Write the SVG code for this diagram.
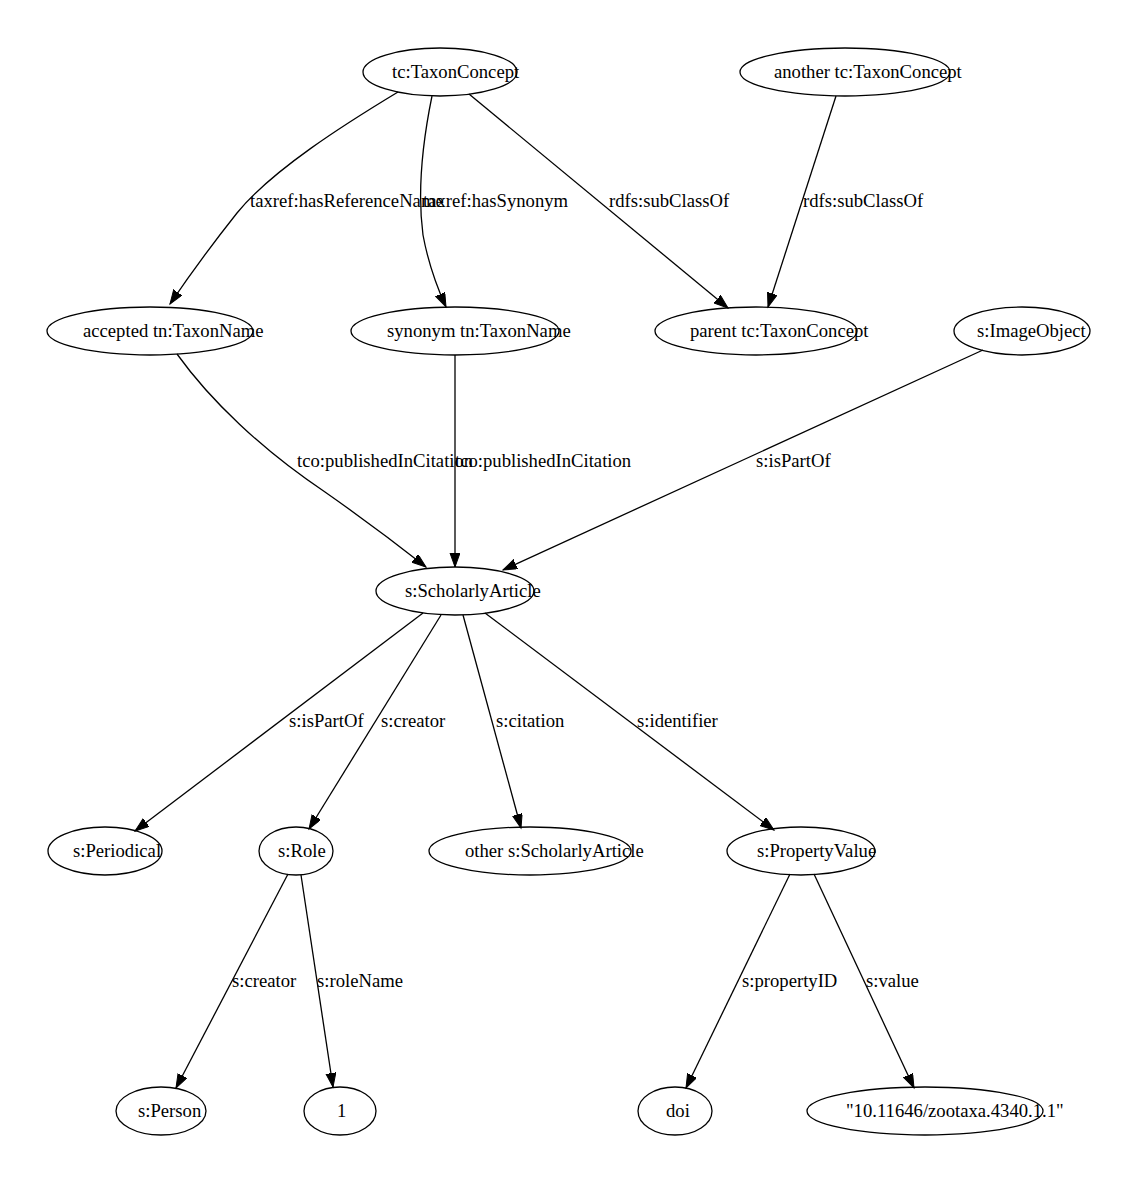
<svg xmlns="http://www.w3.org/2000/svg" width="1139" height="1184" viewBox="0 0 1139 1184">
<style>
.node ellipse{fill:none;stroke:#000;stroke-width:1.3}
text{font-family:"Liberation Serif","Times New Roman",serif;font-size:18.67px;fill:#000}
.edge path{fill:none;stroke:#000;stroke-width:1.3}
</style>
<defs>
<marker id="arr" markerUnits="userSpaceOnUse" markerWidth="16" markerHeight="12" refX="14" refY="5" orient="auto">
<path d="M0,0 L14,5 L0,10 z" fill="#000" stroke="#000" stroke-width="1"/>
</marker>
</defs>
<rect width="1139" height="1184" fill="#fff"/>
<g id="edges" class="edge">
<path marker-end="url(#arr)" d="M398,92 C345,124 272,170 237,213 C214,242 193,270 170,304"/>
<path marker-end="url(#arr)" d="M432,96 C423,140 417,190 423,235 C428,262 436,285 446,307"/>
<path marker-end="url(#arr)" d="M469,94 L728,308"/>
<path marker-end="url(#arr)" d="M836,96 L768,307"/>
<path marker-end="url(#arr)" d="M177,354 C210,400 262,450 325,492 C365,520 398,545 426,567"/>
<path marker-end="url(#arr)" d="M455,355 L455,567"/>
<path marker-end="url(#arr)" d="M983,350 L503,570"/>
<path marker-end="url(#arr)" d="M423,613 L135,831"/>
<path marker-end="url(#arr)" d="M441,615 L309,829"/>
<path marker-end="url(#arr)" d="M463,615 L521,828"/>
<path marker-end="url(#arr)" d="M485,613 L774,830"/>
<path marker-end="url(#arr)" d="M288,874 L176,1088"/>
<path marker-end="url(#arr)" d="M301,875 L333,1087"/>
<path marker-end="url(#arr)" d="M790,874 L686,1088"/>
<path marker-end="url(#arr)" d="M814,874 L914,1088"/>
<text x="250" y="207">taxref:hasReferenceName</text>
<text x="423" y="207">taxref:hasSynonym</text>
<text x="609" y="207">rdfs:subClassOf</text>
<text x="803" y="207">rdfs:subClassOf</text>
<text x="297" y="467">tco:publishedInCitation</text>
<text x="455" y="467">tco:publishedInCitation</text>
<text x="756" y="467">s:isPartOf</text>
<text x="289" y="727">s:isPartOf</text>
<text x="381" y="727">s:creator</text>
<text x="496" y="727">s:citation</text>
<text x="637" y="727">s:identifier</text>
<text x="232" y="987">s:creator</text>
<text x="317" y="987">s:roleName</text>
<text x="742" y="987">s:propertyID</text>
<text x="866" y="987">s:value</text>
</g>
<g id="n1" class="node"><ellipse cx="440" cy="72" rx="77" ry="24"/><text x="392" y="78">tc:TaxonConcept</text></g>
<g id="n2" class="node"><ellipse cx="845" cy="72" rx="105" ry="24"/><text x="774" y="78">another tc:TaxonConcept</text></g>
<g id="n3" class="node"><ellipse cx="150" cy="331" rx="103" ry="24"/><text x="83" y="337">accepted tn:TaxonName</text></g>
<g id="n4" class="node"><ellipse cx="455" cy="331" rx="104" ry="24"/><text x="387" y="337">synonym tn:TaxonName</text></g>
<g id="n5" class="node"><ellipse cx="756" cy="331" rx="101" ry="24"/><text x="690" y="337">parent tc:TaxonConcept</text></g>
<g id="n6" class="node"><ellipse cx="1022" cy="331" rx="68" ry="24"/><text x="977" y="337">s:ImageObject</text></g>
<g id="n7" class="node"><ellipse cx="455" cy="591" rx="79" ry="24"/><text x="405" y="597">s:ScholarlyArticle</text></g>
<g id="n8" class="node"><ellipse cx="105" cy="851" rx="57" ry="24"/><text x="73" y="857">s:Periodical</text></g>
<g id="n9" class="node"><ellipse cx="296" cy="851" rx="37" ry="24"/><text x="278" y="857">s:Role</text></g>
<g id="n10" class="node"><ellipse cx="530" cy="851" rx="101" ry="24"/><text x="465" y="857">other s:ScholarlyArticle</text></g>
<g id="n11" class="node"><ellipse cx="801" cy="851" rx="74" ry="24"/><text x="757" y="857">s:PropertyValue</text></g>
<g id="n12" class="node"><ellipse cx="161" cy="1111" rx="45" ry="24"/><text x="138" y="1117">s:Person</text></g>
<g id="n13" class="node"><ellipse cx="340" cy="1111" rx="36" ry="24"/><text x="337" y="1117">1</text></g>
<g id="n14" class="node"><ellipse cx="675" cy="1111" rx="37" ry="24"/><text x="666" y="1117">doi</text></g>
<g id="n15" class="node"><ellipse cx="925" cy="1111" rx="118" ry="24"/><text x="846" y="1117">"10.11646/zootaxa.4340.1.1"</text></g>
</svg>
